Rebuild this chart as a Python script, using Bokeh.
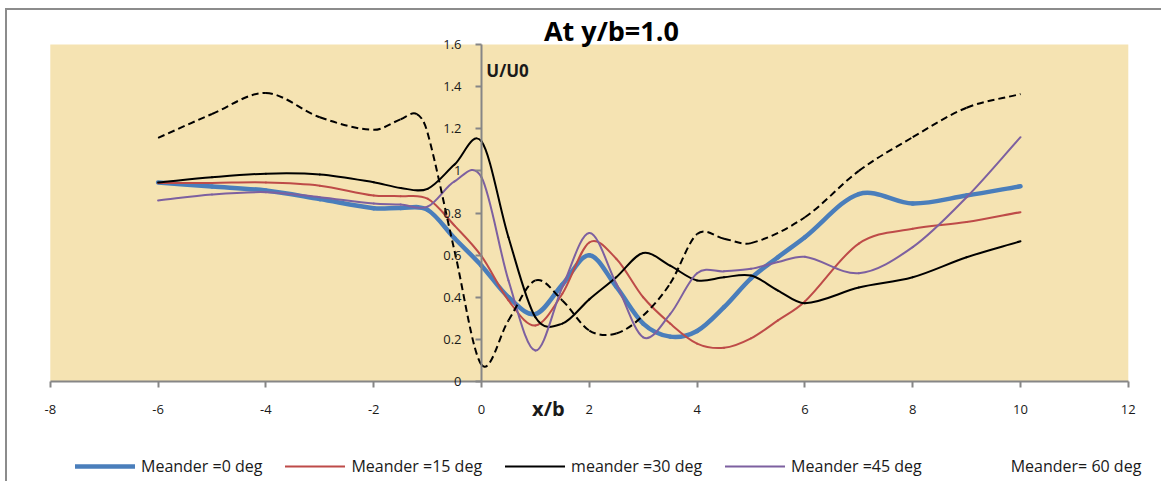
from bokeh.plotting import figure
from bokeh.models import (Range1d, Legend, LegendItem, Label, FixedTicker,
                          CustomJSTickFormatter, LinearAxis, BoxAnnotation)
from bokeh.embed import file_html
from bokeh.resources import INLINE

# ---------------- data ----------------
x_ticks = [-8, -6, -4, -2, 0, 2, 4, 6, 8, 10, 12]
y_ticks = [0, 0.2, 0.4, 0.6, 0.8, 1.0, 1.2, 1.4, 1.6]

x_common = [-6, -5, -4, -3, -2, -1.5, -1, -0.5, 0, 0.5, 1, 1.5, 2, 2.5, 3,
            3.5, 4, 4.5, 5, 5.5, 6, 7, 8, 9, 10]

u_0deg = [0.945, 0.926, 0.907, 0.866, 0.823, 0.824, 0.815, 0.68, 0.55, 0.40,
          0.32, 0.46, 0.60, 0.45, 0.275, 0.213, 0.24, 0.353, 0.49, 0.59,
          0.685, 0.89, 0.845, 0.883, 0.927]
u_15deg = [0.943, 0.943, 0.945, 0.93, 0.883, 0.88, 0.868, 0.74, 0.595, 0.385,
           0.266, 0.417, 0.66, 0.583, 0.40, 0.275, 0.18, 0.16, 0.205, 0.29,
           0.38, 0.655, 0.725, 0.757, 0.804]
u_30deg = [0.945, 0.97, 0.987, 0.983, 0.946, 0.919, 0.915, 1.03, 1.14, 0.685,
           0.305, 0.275, 0.39, 0.495, 0.61, 0.55, 0.48, 0.495, 0.503, 0.432,
           0.372, 0.446, 0.495, 0.59, 0.666]
u_45deg = [0.86, 0.888, 0.899, 0.875, 0.845, 0.84, 0.83, 0.95, 0.97, 0.48,
           0.147, 0.448, 0.705, 0.465, 0.21, 0.32, 0.514, 0.523, 0.535, 0.567,
           0.592, 0.514, 0.638, 0.875, 1.16]

x_60deg = [-6, -5, -4, -3, -2, -1.5, -1.2, -1, -0.5, 0, 0.5, 1, 1.5, 2, 2.5,
           3, 3.5, 4, 4.5, 5, 6, 7, 8, 9, 10]
u_60deg = [1.157, 1.27, 1.37, 1.255, 1.195, 1.245, 1.27, 1.18, 0.62, 0.08,
           0.29, 0.48, 0.385, 0.242, 0.228, 0.313, 0.465, 0.70, 0.678, 0.657,
           0.78, 1.0, 1.16, 1.30, 1.365]

labels = ["Meander =0 deg", "Meander =15 deg", "meander =30 deg",
          "Meander =45 deg", "Meander= 60 deg"]


def smooth_segments(xs, ys):
    """Cubic Hermite control points for drawing a smoothed line with bezier."""
    n = len(xs)
    m = []
    for i in range(n):
        if i == 0:
            m.append((ys[1] - ys[0]) / (xs[1] - xs[0]))
        elif i == n - 1:
            m.append((ys[-1] - ys[-2]) / (xs[-1] - xs[-2]))
        else:
            m.append((ys[i + 1] - ys[i - 1]) / (xs[i + 1] - xs[i - 1]))
    d = dict(x0=[], y0=[], x1=[], y1=[], cx0=[], cy0=[], cx1=[], cy1=[])
    for i in range(n - 1):
        h = xs[i + 1] - xs[i]
        d["x0"].append(xs[i]); d["y0"].append(ys[i])
        d["x1"].append(xs[i + 1]); d["y1"].append(ys[i + 1])
        d["cx0"].append(xs[i] + h / 3); d["cy0"].append(ys[i] + m[i] * h / 3)
        d["cx1"].append(xs[i + 1] - h / 3); d["cy1"].append(ys[i + 1] - m[i + 1] * h / 3)
    return d


FONT = "Open Sans"
AXIS_COLOR = "#868686"
TEXT_COLOR = "#1a1a1a"

# the frame covers the whole canvas; the chart area (-8..12, 0..1.6) sits inside it
p = figure(width=1156, height=473, x_range=Range1d(-8.794, 12.653),
           y_range=Range1d(-0.4843, 1.7616),
           output_backend="svg", toolbar_location=None,
           x_axis_location=None, y_axis_location=None,
           min_border=0, min_border_left=0, min_border_right=0,
           min_border_top=0, min_border_bottom=0)
p.styles = {"margin-left": "5px", "margin-top": "8px",
            "border-left": "2px solid #8c8c8c", "border-top": "2px solid #8c8c8c"}
p.background_fill_color = "white"
p.border_fill_color = "white"
p.outline_line_color = None
p.grid.visible = False

# papyrus-coloured plot area
p.add_layout(BoxAnnotation(left=-8, right=12, bottom=0, top=1.6,
                           fill_color="#F5E3B2", fill_alpha=1.0,
                           line_color=None, level="underlay"))


def style_axis(ax, standoff):
    ax.axis_line_color = AXIS_COLOR
    ax.axis_line_width = 2
    ax.major_tick_line_color = AXIS_COLOR
    ax.major_tick_line_width = 2
    ax.major_tick_out = 6
    ax.major_tick_in = 0
    ax.minor_tick_line_color = None
    ax.major_label_standoff = standoff
    ax.major_label_text_font = FONT
    ax.major_label_text_font_size = "13px"
    ax.major_label_text_color = TEXT_COLOR


# x axis crossing at y = 0
xa = LinearAxis(fixed_location=0, ticker=FixedTicker(ticks=x_ticks), bounds=(-8, 12))
xa.formatter = CustomJSTickFormatter(code="return String(Math.round(tick));")
style_axis(xa, 17)
p.add_layout(xa, "below")

# y axis crossing at x = 0
ya = LinearAxis(fixed_location=0, ticker=FixedTicker(ticks=y_ticks), bounds=(0, 1.6))
ya.formatter = CustomJSTickFormatter(code="return tick.toFixed(1).replace(/\\.0$/, '');")
style_axis(ya, 14)
p.add_layout(ya, "left")

# series
r0 = p.bezier(**smooth_segments(x_common, u_0deg),
              line_color="#4A7EBB", line_width=4.5, line_cap="round")
r15 = p.bezier(**smooth_segments(x_common, u_15deg),
               line_color="#BE4B48", line_width=2, line_cap="round")
r30 = p.bezier(**smooth_segments(x_common, u_30deg),
               line_color="#000000", line_width=2, line_cap="round")
r45 = p.bezier(**smooth_segments(x_common, u_45deg),
               line_color="#7D60A0", line_width=2, line_cap="round")
r60 = p.bezier(**smooth_segments(x_60deg, u_60deg),
               line_color="#000000", line_width=2, line_dash="7 4")
dummy = p.line(x=[0, 0], y=[0, 0], line_alpha=0)

legend = Legend(items=[LegendItem(label=labels[0], renderers=[r0]),
                       LegendItem(label=labels[1], renderers=[r15]),
                       LegendItem(label=labels[2], renderers=[r30]),
                       LegendItem(label=labels[3], renderers=[r45]),
                       LegendItem(label=labels[4], renderers=[dummy])],
                orientation="horizontal", location=(68, 6), spacing=23,
                glyph_width=60, label_standoff=6, padding=0, margin=0,
                border_line_alpha=0, background_fill_alpha=0,
                label_text_font=FONT, label_text_font_size="16px",
                label_text_color=TEXT_COLOR)
p.add_layout(legend, "center")

# texts
p.add_layout(Label(x=2.41, y=1.667, text="At y/b=1.0", text_align="center",
                   text_baseline="middle", text_font=FONT,
                   text_font_size="27px", text_font_style="bold", text_color="#000000"))
p.add_layout(Label(x=0.09, y=1.477, text="U/U0", text_align="left",
                   text_baseline="middle", text_font=FONT,
                   text_font_size="17px", text_font_style="bold", text_color=TEXT_COLOR))
p.add_layout(Label(x=1.24, y=-0.128, text="x/b", text_align="center",
                   text_baseline="middle", text_font=FONT,
                   text_font_size="20px", text_font_style="bold", text_color=TEXT_COLOR))

open("out.html", "w").write(file_html(p, INLINE))
